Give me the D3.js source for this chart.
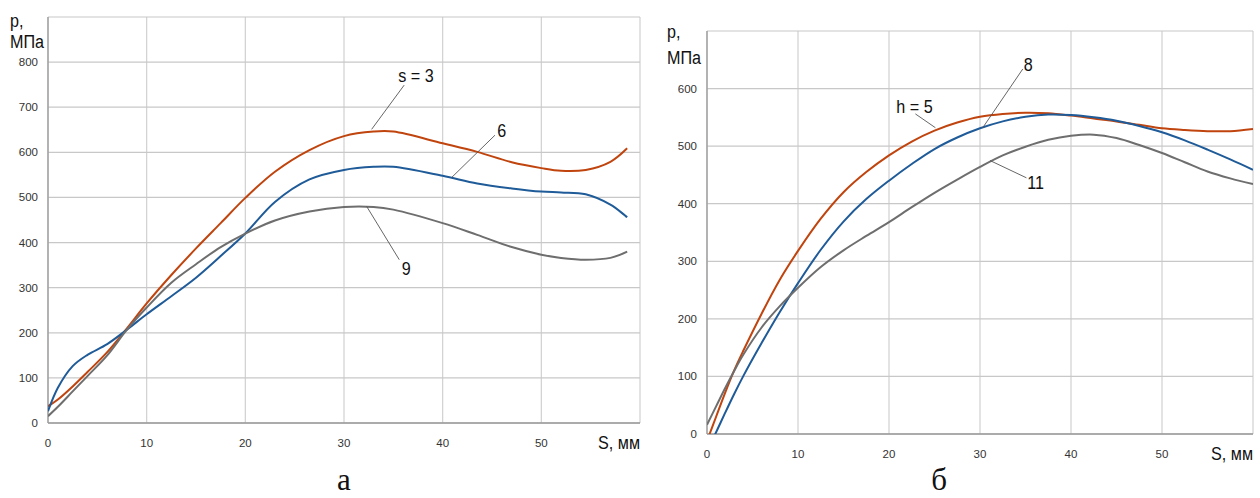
<!DOCTYPE html>
<html>
<head>
<meta charset="utf-8">
<script src="https://cdn.jsdelivr.net/npm/d3@7"></script>
<style>
  body { margin: 0; background: #fff; }
  text { font-family: "Liberation Sans", Arial, sans-serif; fill: #222; }
  .tick-label { font-size: 11.5px; fill: #333; }
  .big { font-size: 19px; fill: #111; }
  .caption { font-family: "Liberation Serif", "Times New Roman", serif; font-size: 31px; fill: #111; }
</style>
</head>
<body>
<div id="chart"></div>
<script>
// Chart a: p versus S for different s
const leftX = [0, 1, 2.5, 4, 6, 8, 10, 12.5, 15, 17.5, 20, 23, 26.5, 30, 33, 35, 40, 43.5, 47, 50, 52, 54.5, 57, 58.7];
const leftS3 = [37, 52, 81, 113, 157, 210, 265, 328, 387, 443, 499, 557, 605, 636, 646, 646, 620, 601, 578, 565, 559, 561, 579, 609];
const leftS6 = [26, 78, 126, 151, 175, 207, 241, 281, 322, 370, 420, 490, 540, 561, 568, 568, 548, 531, 520, 513, 511, 507, 484, 456];
const leftS9 = [15, 36, 70, 104, 150, 207, 256, 311, 352, 390, 420, 449, 469, 479, 479, 473, 443, 417, 390, 373, 366, 362, 366, 380];

// Chart б: p versus S for different h
const rightX = [0, 1, 2, 3, 4, 6, 8, 10, 12.5, 15, 17.5, 20, 22.5, 25, 27.5, 30, 32.5, 35, 37.5, 40, 42.5, 45, 47.5, 50, 52.5, 55, 57.5, 60];
const rightH5 = [-12, 30, 72, 111, 145, 209, 268, 318, 374, 420, 455, 484, 508, 527, 541, 551, 556, 558, 557, 553, 548, 543, 537, 531, 528, 526, 526, 530];
const rightH8 = [-30, 3, 37, 70, 101, 158, 212, 262, 320, 369, 408, 440, 469, 495, 515, 531, 543, 551, 555, 554, 550, 544, 535, 524, 510, 494, 477, 459];
const rightH11 = [16, 48, 80, 110, 138, 185, 222, 254, 290, 319, 344, 368, 394, 419, 442, 464, 484, 499, 511, 518, 520, 514, 502, 488, 472, 456, 444, 434];

// tick labels
const xTicks = [0, 10, 20, 30, 40, 50];
const leftYTicks = [0, 100, 200, 300, 400, 500, 600, 700, 800];
const rightYTicks = [0, 100, 200, 300, 400, 500, 600];

// curve labels: text position and the point on the curve the leader goes to
const leftNotes = [
  { text: "s = 3", x: 37.3, y: 771, x1: 36.1, y1: 749, x2: 32.8, y2: 651 },
  { text: "6", x: 46.0, y: 649, x1: 45.3, y1: 638, x2: 40.9, y2: 544 },
  { text: "9", x: 36.3, y: 344, x1: 35.6, y1: 362, x2: 32.3, y2: 480 }
];
const rightNotes = [
  { text: "h = 5", x: 22.8, y: 570, x1: 22.9, y1: 556, x2: 25.1, y2: 532 },
  { text: "8", x: 35.3, y: 643, x1: 34.7, y1: 634, x2: 30.3, y2: 532 },
  { text: "11", x: 36.1, y: 437, x1: 35.1, y1: 445, x2: 31.1, y2: 475 }
];

const colors = ["#c0440e", "#1f5b98", "#6e6e6e"];

const width = 1260, height = 498;

const svg = d3.select("#chart")
  .append("svg")
  .attr("width", width)
  .attr("height", height);

svg.append("rect").attr("width", width).attr("height", height).attr("fill", "#fff");

// the source font is narrow, so big texts are squeezed a little
function narrowText(g, px, py, txt, anchor) {
  return g.append("text").attr("class", "big")
    .attr("transform", `translate(${px},${py}) scale(0.85,1)`)
    .attr("text-anchor", anchor || "start")
    .text(txt);
}

function drawPanel(cfg) {
  const x = d3.scaleLinear().domain([0, 60]).range([cfg.left, cfg.right]);
  const y = d3.scaleLinear().domain([0, cfg.yMax]).range([cfg.bottom, cfg.top]);
  const g = svg.append("g");

  // grid
  g.selectAll(".vgrid").data(d3.range(0, 61, 10)).join("line")
    .attr("x1", d => x(d)).attr("x2", d => x(d))
    .attr("y1", y(0)).attr("y2", y(cfg.yMax))
    .attr("stroke", "#d0d0d0").attr("stroke-width", 1.2);
  g.selectAll(".hgrid").data(d3.range(0, cfg.yMax + 1, 100)).join("line")
    .attr("x1", x(0)).attr("x2", x(60))
    .attr("y1", d => y(d)).attr("y2", d => y(d))
    .attr("stroke", "#c8c8c8").attr("stroke-width", 1.2);

  // axes lines
  g.append("line").attr("x1", x(0)).attr("x2", x(60)).attr("y1", y(0)).attr("y2", y(0))
    .attr("stroke", "#999").attr("stroke-width", 1.3);
  g.append("line").attr("x1", x(0)).attr("x2", x(0)).attr("y1", y(0)).attr("y2", y(cfg.yMax))
    .attr("stroke", "#999").attr("stroke-width", 1.3);

  // tick labels
  g.selectAll(".xt").data(xTicks).join("text")
    .attr("class", "tick-label")
    .attr("x", d => x(d)).attr("y", y(0) + 20).attr("dy", "0.35em")
    .attr("text-anchor", "middle").text(d => d);
  g.selectAll(".yt").data(cfg.yTicks).join("text")
    .attr("class", "tick-label")
    .attr("x", x(0) - 10).attr("y", d => y(d)).attr("dy", "0.35em")
    .attr("text-anchor", "end").text(d => d);

  // axis titles
  narrowText(g, x(60), y(0) + 26, "S, мм", "end");
  narrowText(g, cfg.pX, cfg.pY, "p,");
  narrowText(g, cfg.pX, cfg.pY + cfg.pGap, "МПа");

  // curves
  svg.append("clipPath").attr("id", cfg.id)
    .append("rect").attr("x", x(0)).attr("y", y(cfg.yMax))
    .attr("width", x(60) - x(0)).attr("height", y(0) - y(cfg.yMax));

  const line = d3.line()
    .x((d, i) => x(cfg.xs[i]))
    .y(d => y(d))
    .curve(d3.curveCatmullRom.alpha(0.5));

  g.selectAll(".curve").data(cfg.series).join("path")
    .attr("clip-path", `url(#${cfg.id})`)
    .attr("d", d => line(d))
    .attr("fill", "none")
    .attr("stroke", (d, i) => colors[i])
    .attr("stroke-width", 2);

  // leaders and labels
  g.selectAll(".leader").data(cfg.notes).join("line")
    .attr("x1", d => x(d.x1)).attr("y1", d => y(d.y1))
    .attr("x2", d => x(d.x2)).attr("y2", d => y(d.y2))
    .attr("stroke", "#555").attr("stroke-width", 0.9);
  cfg.notes.forEach(d => narrowText(g, x(d.x), y(d.y) + 7, d.text, "middle"));

  // caption
  g.append("text").attr("class", "caption")
    .attr("x", x(cfg.capX)).attr("y", cfg.capY)
    .attr("text-anchor", "middle").text(cfg.caption);
}

drawPanel({
  id: "clipA", left: 48, right: 640, top: 17, bottom: 423, yMax: 900,
  yTicks: leftYTicks, xs: leftX, series: [leftS3, leftS6, leftS9], notes: leftNotes,
  pX: 10, pY: 27, pGap: 21, caption: "а", capX: 30, capY: 490
});

drawPanel({
  id: "clipB", left: 707, right: 1253, top: 31, bottom: 434, yMax: 700,
  yTicks: rightYTicks, xs: rightX, series: [rightH5, rightH8, rightH11], notes: rightNotes,
  pX: 667, pY: 38, pGap: 26, caption: "б", capX: 25.5, capY: 490
});
</script>
</body>
</html>
